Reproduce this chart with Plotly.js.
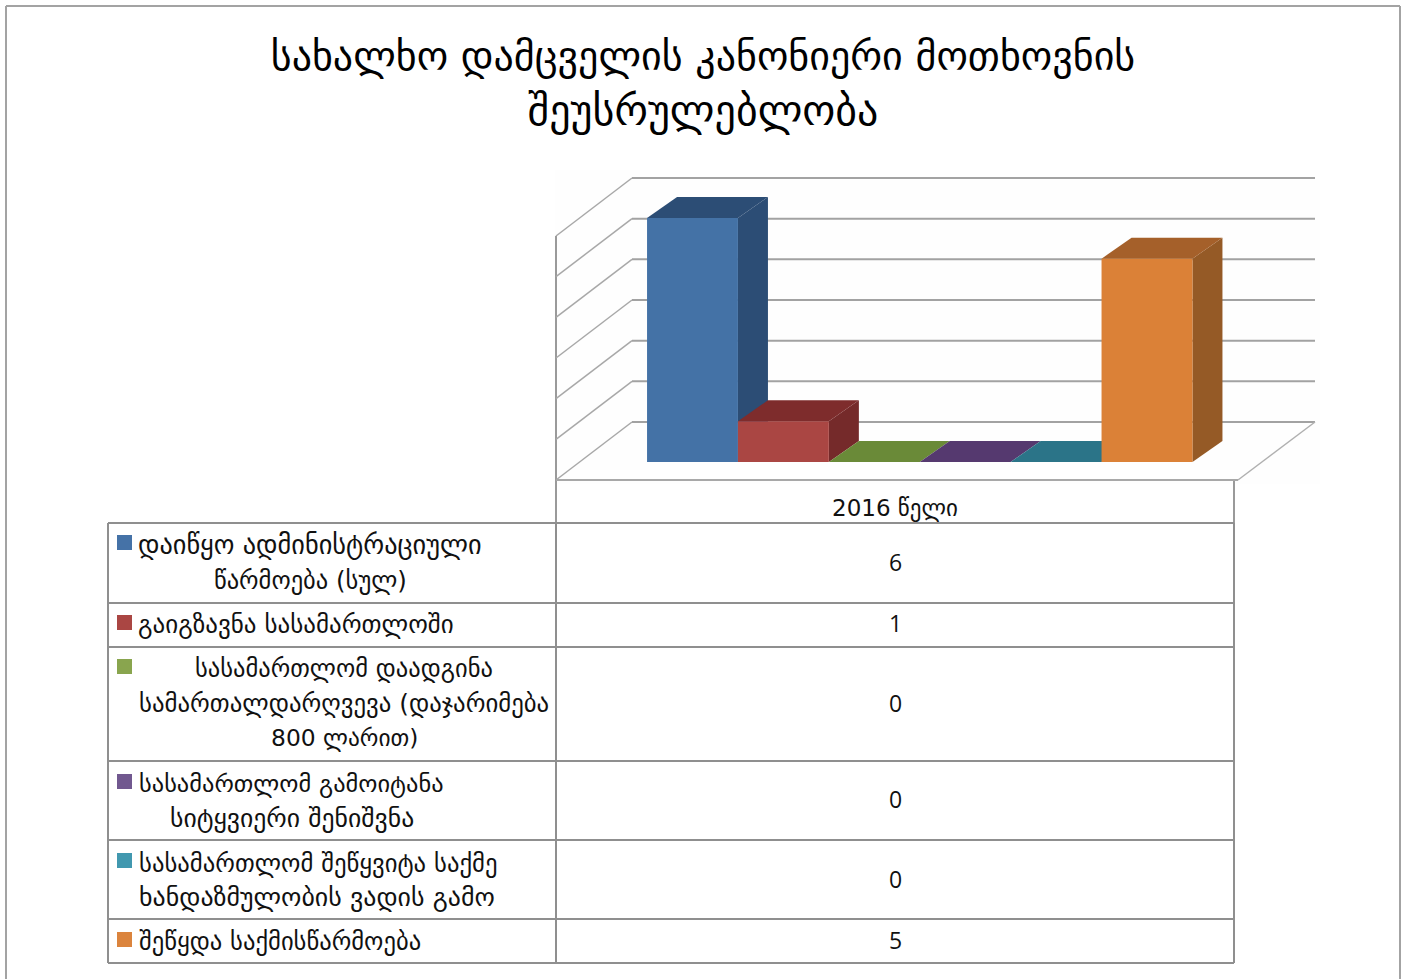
<!DOCTYPE html>
<html><head><meta charset="utf-8">
<script src="https://cdn.plot.ly/plotly-3.0.1.min.js"></script>
<style>html,body{margin:0;padding:0;background:#fff;overflow:hidden}#c{width:1407px;height:979px}</style>
</head><body><div id="c"></div>
<script>
// ---- data ----
const titleLines = ['სახალხო დამცველის კანონიერი მოთხოვნის', 'შეუსრულებლობა'];
const category = '2016 წელი';
const seriesNames = [
  ['დაიწყო ადმინისტრაციული', 'წარმოება (სულ)'],
  ['გაიგზავნა სასამართლოში'],
  ['სასამართლომ დაადგინა', 'სამართალდარღვევა (დაჯარიმება', '800 ლარით)'],
  ['სასამართლომ გამოიტანა', 'სიტყვიერი შენიშვნა'],
  ['სასამართლომ შეწყვიტა საქმე', 'ხანდაზმულობის ვადის გამო'],
  ['შეწყდა საქმისწარმოება']
];
const seriesValues = [6, 1, 0, 0, 0, 5];
const gridValues = [0, 1, 2, 3, 4, 5, 6];
const frontColors = ['#4472A6', '#AA4643', '#89A54E', '#71588F', '#4198AF', '#DB8137'];
const keyColors   = ['#4572A7', '#AA4643', '#89A54E', '#71588F', '#4198AF', '#DB843D'];
const topColors   = ['#2C4D75', '#7E2C2C', '#6A8A38', '#55396F', '#2B7488', '#A5602A'];
const sideColors  = ['#2C4D75', '#752A2A', '#5F7530', '#4D3B62', '#276A7C', '#955A26'];

// ---- layout geometry (pixels on the 1407x979 page) ----
const W = 1407, H = 979;
const barWidthPx = 90.9, firstBarCentrePx = 692.5;
const unitPx = 40.67, zeroPx = 462;
const depthXPx = 30, depthYPx = 21;
const tableRows = [523, 603, 647, 761, 840, 919, 963];
const tableCols = [108, 556, 1234];
const keyTops = [535, 615, 659, 774, 853, 932];
const lineCentres = [[310, 310], [296], [344, 344, 344], [291, 292], [318, 317], [280]];
const lineYs = [[545, 580], [624], [668, 703, 738], [783, 818], [863, 897], [941]];
const lineSizes = [[26.3, 24.5], [25], [24.5, 24.8, 23.4], [24.4, 25.7], [24.7, 25.9], [24.6]];
const valueYs = [562, 623, 703, 799, 879, 940];
const titleSizes = [40, 42];
const bodyFont = 'DejaVu Sans, Noto Sans, sans-serif';
const numFont = 'Open Sans, sans-serif';

// pixel <-> axis helpers
const ax = px => (px - firstBarCentrePx) / barWidthPx;
const ay = py => (zeroPx - py) / unitPx;
const px = xf => xf / W, py = yf => 1 - yf / H;
const dX = depthXPx / barWidthPx, dY = depthYPx / unitPx;

const traces = [];
// side and top faces, back to front, on the base axes
seriesValues.forEach((v, i) => {
  const l = i - 0.5, r = i + 0.5;
  if (v > 0) traces.push({
    type: 'scatter', mode: 'lines', fill: 'toself', fillcolor: sideColors[i],
    line: {width: 0, color: sideColors[i]}, hoverinfo: 'skip', showlegend: false,
    x: [r, r + dX, r + dX, r, r], y: [0, dY, v + dY, v, 0]
  });
  traces.push({
    type: 'scatter', mode: 'lines', fill: 'toself', fillcolor: topColors[i],
    line: {width: 0, color: topColors[i]}, hoverinfo: 'skip', showlegend: false,
    x: [l, r, r + dX, l + dX, l], y: [v, v, v + dY, v + dY, v]
  });
});
// front faces on an overlay pair of axes, so they always sit in front
traces.push({
  type: 'bar', x: seriesValues.map((_, i) => i), y: seriesValues, width: 1,
  marker: {color: frontColors, line: {width: 0}},
  text: seriesNames.map(n => n.join(' ')), hoverinfo: 'text+y', textposition: 'none',
  xaxis: 'x2', yaxis: 'y2', showlegend: false
});

const shapes = [];
const line = (x0, y0, x1, y1, color, width, xref, yref, layer) =>
  ({type: 'line', x0, y0, x1, y1, xref, yref, layer: layer || 'below', line: {color, width}});
const pLine = (a, b, c, d, col, w) => line(px(a), py(b), px(c), py(d), col || '#8f8f8f', w || 2, 'paper', 'paper');

// page frame
[[6, 6, 1400, 6], [6, 6, 6, 979], [1400, 6, 1400, 979]].forEach(s => shapes.push(pLine(...s, '#a3a3a3', 2)));
// faint chart picture background
shapes.push({type: 'rect', xref: 'paper', yref: 'paper', x0: px(555), x1: px(1320), y0: py(170), y1: py(484),
  fillcolor: '#fefefe', line: {width: 0}, layer: 'below'});
// walls and floor, expressed on the value axis
const backL = 632, backR = 1315, frontL = 556, frontR = 1238, floorFront = 480, floorBack = 422;
gridValues.forEach(v => {
  const yF = ay(floorFront) + v, yB = ay(floorBack) + v;
  shapes.push(line(ax(frontL), yF, ax(backL), yB, '#a8a8a8', 1.5, 'x', 'y'));
  shapes.push(line(ax(backL), yB, ax(backR), yB, '#a2a2a2', 2, 'x', 'y'));
});
shapes.push(line(ax(frontL), ay(floorFront), ax(frontR), ay(floorFront), '#a8a8a8', 2, 'x', 'y'));
shapes.push(line(ax(frontR), ay(floorFront), ax(backR), ay(floorBack), '#b0b0b0', 1.5, 'x', 'y'));
shapes.push(pLine(556, 236, 556, 523, '#9a9a9a', 2));
shapes.push(pLine(1234, 480, 1234, 523, '#9a9a9a', 2));
// table
tableRows.forEach(y => shapes.push(pLine(tableCols[0], y, tableCols[2], y)));
tableCols.forEach(x => shapes.push(pLine(x, tableRows[0], x, tableRows[6])));
// legend keys
keyTops.forEach((t, i) => shapes.push({type: 'rect', xref: 'paper', yref: 'paper',
  x0: px(117), x1: px(132), y0: py(t), y1: py(t + 15), fillcolor: keyColors[i], line: {width: 0}, layer: 'above'}));

const annotations = [];
const note = (text, x, y, size, family) => annotations.push({text, xref: 'paper', yref: 'paper', x: px(x), y: py(y),
  xanchor: 'center', yanchor: 'middle', showarrow: false, font: {family, size, color: '#111'}});
note(category, 895, 508, 23, bodyFont);
seriesNames.forEach((ls, i) => {
  ls.forEach((t, j) => note(t, lineCentres[i][j], lineYs[i][j], lineSizes[i][j], bodyFont));
  note(String(seriesValues[i]), 895, valueYs[i], 23, numFont);
});

const titleSpan = (t, i) => '<span style="font-size:' + titleSizes[i] + 'px">' + t + '</span>';
const layout = {
  width: W, height: H, autosize: false,
  margin: {l: 0, r: 0, t: 0, b: 0, pad: 0},
  paper_bgcolor: '#fff', plot_bgcolor: 'rgba(0,0,0,0)',
  title: {text: titleLines.map(titleSpan).join('<br>'), x: 703 / W, xanchor: 'center', y: py(70), yanchor: 'top',
    font: {family: bodyFont, size: 42, color: '#000'}, automargin: false},
  xaxis: {range: [ax(0), ax(W)], visible: false, fixedrange: true},
  yaxis: {range: [ay(H), ay(0)], visible: false, fixedrange: true},
  xaxis2: {range: [ax(0), ax(W)], visible: false, fixedrange: true, overlaying: 'x'},
  yaxis2: {range: [ay(H), ay(0)], visible: false, fixedrange: true, overlaying: 'y'},
  shapes, annotations, showlegend: false, hovermode: 'closest'
};
Plotly.newPlot('c', traces, layout, {displayModeBar: false, responsive: false});
</script></body></html>
